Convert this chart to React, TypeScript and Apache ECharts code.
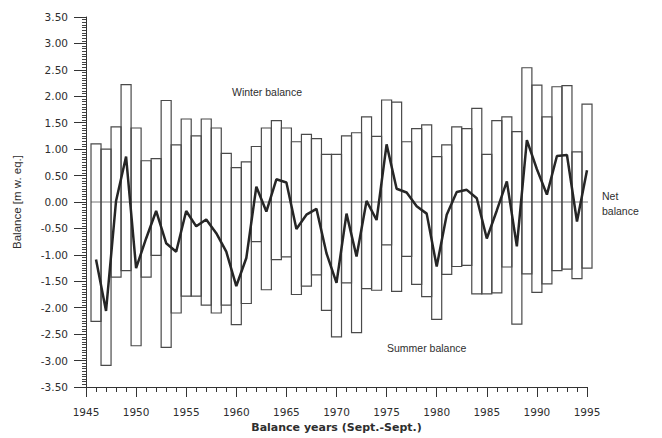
import React, { useEffect, useRef } from "react";
import * as echarts from "echarts";

const years = [
  1946, 1947, 1948, 1949, 1950, 1951, 1952, 1953, 1954, 1955,
  1956, 1957, 1958, 1959, 1960, 1961, 1962, 1963, 1964, 1965,
  1966, 1967, 1968, 1969, 1970, 1971, 1972, 1973, 1974, 1975,
  1976, 1977, 1978, 1979, 1980, 1981, 1982, 1983, 1984, 1985,
  1986, 1987, 1988, 1989, 1990, 1991, 1992, 1993, 1994, 1995,
];

const winterBalance = [
  1.10, 1.00, 1.42, 2.22, 1.40, 0.78, 0.82, 1.92, 1.08, 1.57,
  1.25, 1.57, 1.40, 0.92, 0.65, 0.76, 1.05, 1.40, 1.54, 1.40,
  1.14, 1.28, 1.20, 0.90, 0.90, 1.25, 1.31, 1.61, 1.24, 1.93,
  1.89, 1.14, 1.39, 1.46, 0.86, 1.08, 1.42, 1.39, 1.77, 0.90,
  1.54, 1.61, 1.33, 2.54, 2.21, 1.61, 2.18, 2.20, 0.95, 1.85,
];

const summerBalance = [
  -2.26, -3.09, -1.42, -1.30, -2.72, -1.42, -1.01, -2.75, -2.10, -1.78,
  -1.78, -1.95, -2.10, -1.95, -2.32, -1.92, -0.75, -1.66, -1.09, -1.04,
  -1.75, -1.59, -1.38, -2.05, -2.55, -1.53, -2.47, -1.64, -1.67, -0.81,
  -1.69, -1.03, -1.56, -1.79, -2.22, -1.37, -1.22, -1.20, -1.74, -1.74,
  -1.72, -1.23, -2.31, -1.36, -1.71, -1.55, -1.30, -1.27, -1.45, -1.25,
];

const netBalance = [
  -1.09, -2.06, 0.02, 0.86, -1.25, -0.69, -0.17, -0.78, -0.94, -0.17,
  -0.46, -0.33, -0.59, -0.94, -1.59, -1.06, 0.29, -0.18, 0.43, 0.37,
  -0.51, -0.24, -0.13, -0.97, -1.53, -0.22, -1.03, 0.02, -0.34, 1.09,
  0.25, 0.18, -0.08, -0.22, -1.22, -0.24, 0.19, 0.23, 0.07, -0.69,
  -0.16, 0.39, -0.84, 1.17, 0.62, 0.14, 0.87, 0.89, -0.37, 0.60,
];

const SANS = "'Liberation Sans', Arial, sans-serif";
const WIDE = "'DejaVu Sans', sans-serif";
const TEXT = "#2e2e2e";

export default function App() {
  const ref = useRef<HTMLDivElement>(null);

  useEffect(() => {
    if (!ref.current) return;
    const chart = echarts.init(ref.current, null, { renderer: "svg" });

    const barData = years.map((y, i) => [y, winterBalance[i], summerBalance[i]]);
    const netData = years.map((y, i) => [y, netBalance[i]]);
    const zeroData = [
      [years[0] - 0.5, 0],
      [years[years.length - 1] + 0.5, 0],
    ];

    chart.setOption({
      animation: false,
      backgroundColor: "#ffffff",
      textStyle: { fontFamily: SANS },
      grid: { left: 86, right: 75, top: 17, bottom: 38, containLabel: false },
      xAxis: {
        type: "value",
        min: 1945,
        max: 1995,
        interval: 5,
        name: "Balance years (Sept.-Sept.)",
        nameLocation: "middle",
        nameGap: 35,
        nameTextStyle: { fontFamily: WIDE, fontSize: 11, fontWeight: "bold", color: TEXT },
        axisLine: { show: true, onZero: false, lineStyle: { color: "#333", width: 1 } },
        axisTick: { show: true, inside: false, length: 10, lineStyle: { color: "#333" } },
        minorTick: { show: true, splitNumber: 5, length: 5, lineStyle: { color: "#333" } },
        axisLabel: {
          fontFamily: WIDE,
          fontSize: 10.5,
          color: TEXT,
          margin: 19,
          formatter: (v: number) => String(v),
        },
        splitLine: { show: false },
      },
      yAxis: {
        type: "value",
        min: -3.5,
        max: 3.5,
        interval: 0.5,
        name: "Balance [m w. eq.]",
        nameLocation: "middle",
        nameGap: 63,
        nameTextStyle: { fontFamily: SANS, fontSize: 11.5, color: TEXT },
        axisLine: { show: true, lineStyle: { color: "#333", width: 1 } },
        axisTick: { show: true, inside: false, length: 12, lineStyle: { color: "#333" } },
        minorTick: { show: true, splitNumber: 10, length: 4, lineStyle: { color: "#444" } },
        axisLabel: {
          fontFamily: WIDE,
          fontSize: 10.5,
          color: TEXT,
          margin: 18,
          formatter: (v: number) => v.toFixed(2),
        },
        splitLine: { show: false },
      },
      series: [
        {
          type: "line",
          data: zeroData,
          symbol: "none",
          silent: true,
          lineStyle: { color: "#777", width: 1 },
          z: 1,
        },
        {
          type: "custom",
          clip: false,
          data: barData,
          z: 2,
          renderItem: (params: any, api: any) => {
            const yr = api.value(0);
            const w = api.value(1);
            const s = api.value(2);
            const p1 = api.coord([yr - 0.5, w]);
            const p2 = api.coord([yr + 0.5, s]);
            return {
              type: "rect",
              shape: { x: p1[0], y: p1[1], width: p2[0] - p1[0], height: p2[1] - p1[1] },
              style: { fill: "none", stroke: "#4a4a4a", lineWidth: 1.2 },
            };
          },
        },
        {
          type: "line",
          data: netData,
          symbol: "none",
          lineStyle: { color: "#262626", width: 2.5 },
          z: 3,
        },
      ],
      graphic: [
        {
          type: "text",
          left: 232,
          top: 86,
          style: { text: "Winter balance", fontFamily: SANS, fontSize: 10.5, fill: TEXT },
        },
        {
          type: "text",
          left: 387,
          top: 342,
          style: { text: "Summer balance", fontFamily: SANS, fontSize: 10.5, fill: TEXT },
        },
        {
          type: "text",
          left: 602,
          top: 188,
          style: { text: "Net\nbalance", fontFamily: SANS, fontSize: 10.5, lineHeight: 15, fill: TEXT },
        },
      ],
    });

    return () => chart.dispose();
  }, []);

  return (
    <div
      ref={ref}
      style={{ position: "fixed", left: 0, top: 0, width: 662, height: 438 }}
    />
  );
}
